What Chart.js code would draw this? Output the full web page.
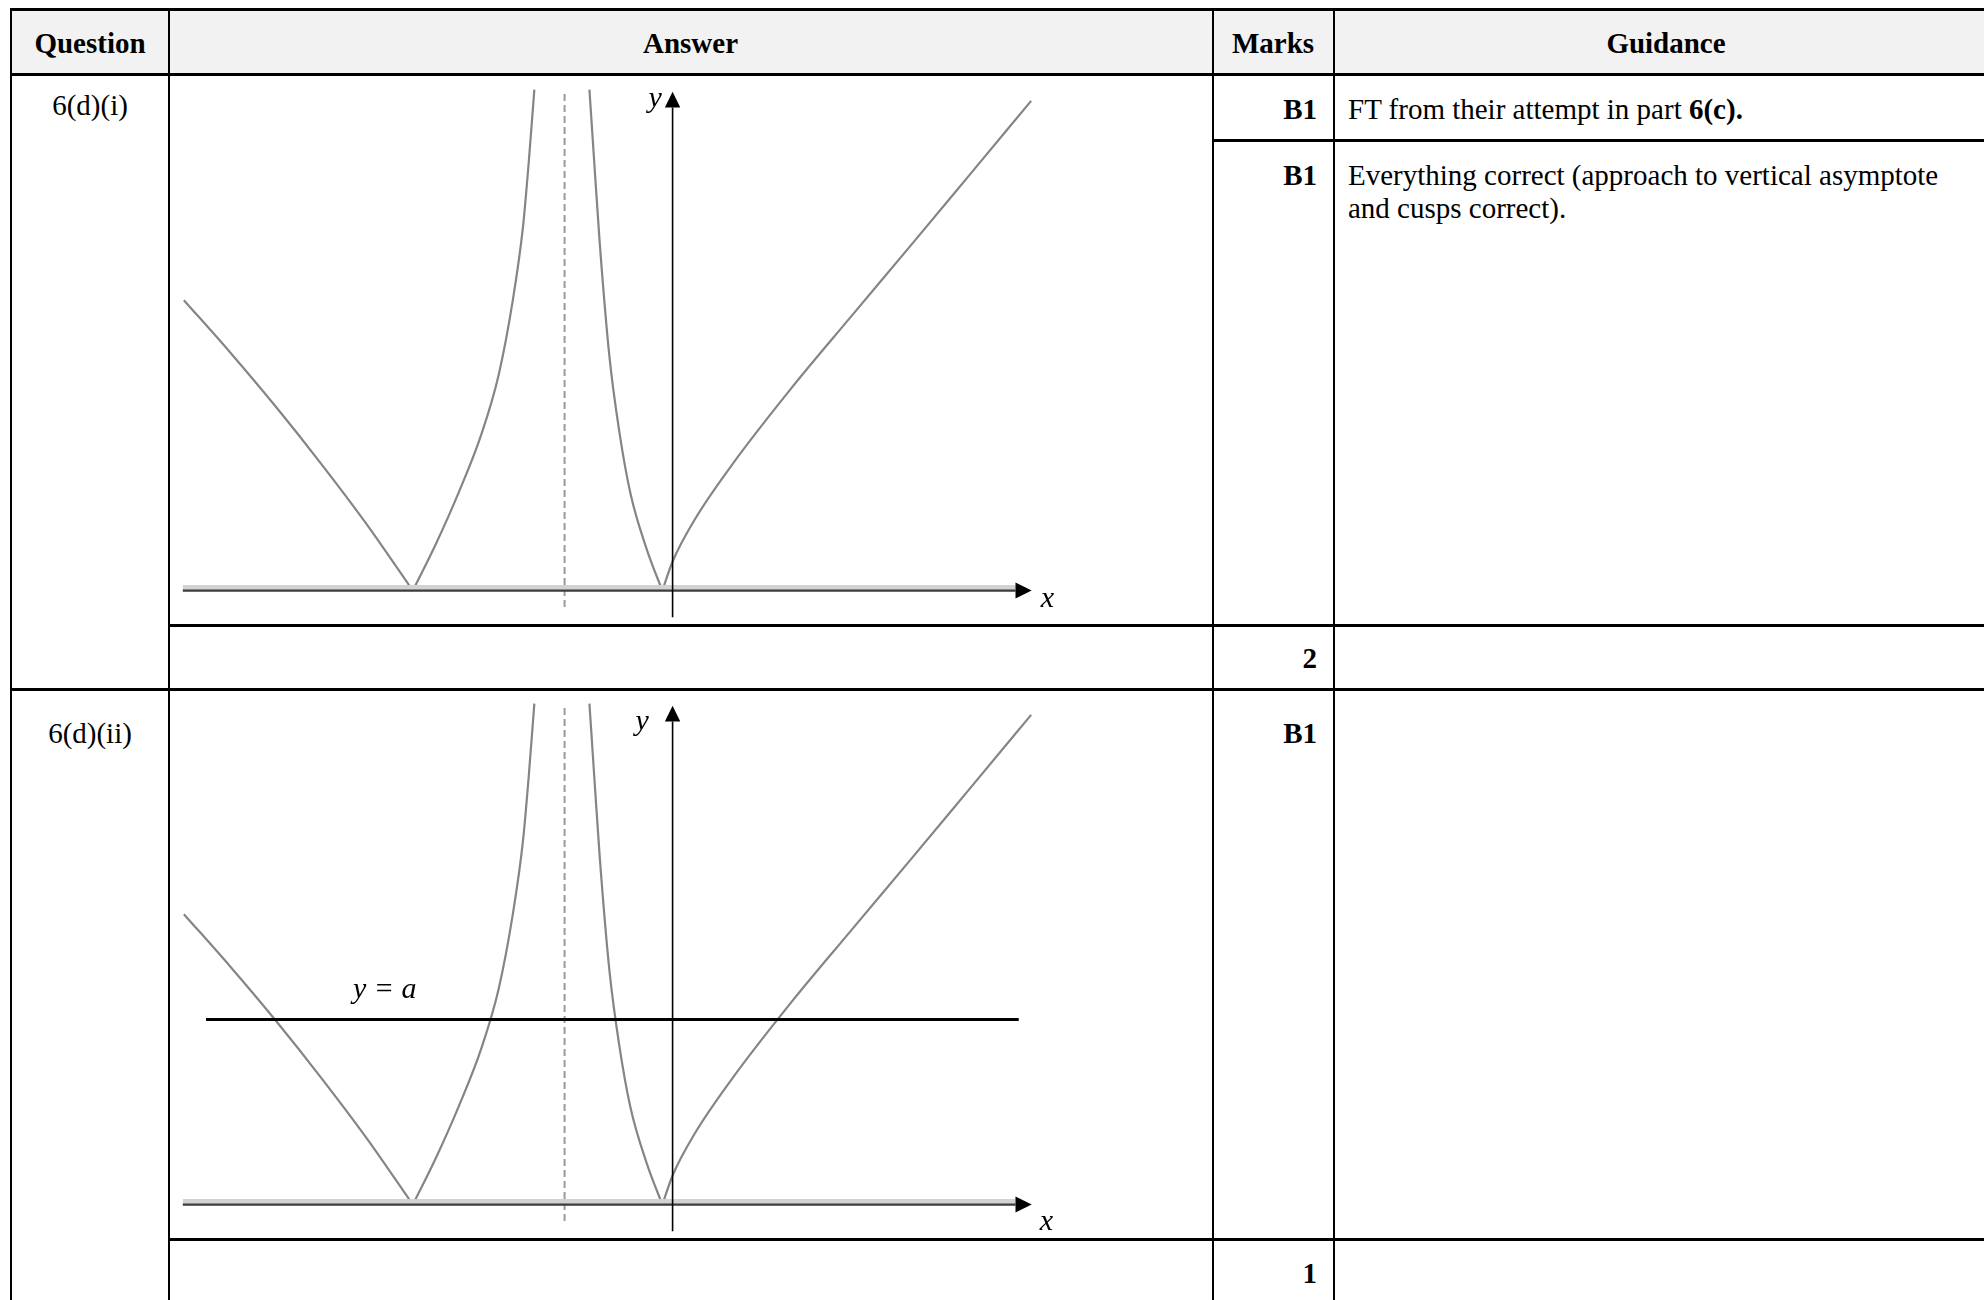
<!DOCTYPE html>
<html>
<head>
<meta charset="utf-8">
<script src="https://cdn.jsdelivr.net/npm/chart.js@4.4.1/dist/chart.umd.min.js"></script>
<style>
  html, body { margin: 0; padding: 0; background: #fff; }
  body { width: 1984px; height: 1300px; overflow: hidden; position: relative;
         font-family: 'Liberation Serif', 'Times New Roman', serif; font-size: 29px; color: #000; }
  .bg { position: absolute; left: 11px; top: 10px; width: 1990px; height: 64px; background: #f2f2f2; }
  .hl { position: absolute; height: 3px; background: #000; }
  .vl { position: absolute; width: 2px; background: #000; top: 8px; height: 1300px; }
  .t { position: absolute; line-height: 33px; white-space: nowrap; }
  .b { font-weight: bold; }
  .c { transform: translateX(-50%); }
  .r { transform: translateX(-100%); }
  .graph { position: absolute; left: 170px; width: 1040px; height: 544px; }
</style>
</head>
<body>
<div class="bg"></div>

<div class="hl" style="left:10px;top:8px;width:2000px"></div>
<div class="hl" style="left:10px;top:73px;width:2000px"></div>
<div class="hl" style="left:1212px;top:138.5px;width:800px"></div>
<div class="hl" style="left:168px;top:623.5px;width:1840px"></div>
<div class="hl" style="left:10px;top:688px;width:2000px"></div>
<div class="hl" style="left:168px;top:1237.5px;width:1840px"></div>

<div class="vl" style="left:10px"></div>
<div class="vl" style="left:167.7px"></div>
<div class="vl" style="left:1211.5px"></div>
<div class="vl" style="left:1333px"></div>

<div class="t b c" style="left:90px;top:27px">Question</div>
<div class="t b c" style="left:690.5px;top:27px">Answer</div>
<div class="t b c" style="left:1273px;top:27px">Marks</div>
<div class="t b c" style="left:1666px;top:27px">Guidance</div>

<div class="t c" style="left:90px;top:88.5px">6(d)(i)</div>
<div class="t b r" style="left:1317px;top:93px">B1</div>
<div class="t" style="left:1348px;top:93px">FT from their attempt in part <b>6(c).</b></div>
<div class="t b r" style="left:1317px;top:158.5px">B1</div>
<div class="t" style="left:1348px;top:158.5px">Everything correct (approach to vertical asymptote<br>and cusps correct).</div>
<div class="t b r" style="left:1317px;top:641.7px">2</div>

<div class="t c" style="left:90px;top:717px">6(d)(ii)</div>
<div class="t b r" style="left:1317px;top:717px">B1</div>
<div class="t b r" style="left:1317px;top:1256.7px">1</div>

<div class="graph" style="top:78px"><canvas id="g1" width="1040" height="544"></canvas></div>
<div class="graph" style="top:692px"><canvas id="g2" width="1040" height="544"></canvas></div>

<script>
// sketch, in graph units (about 54px per unit, origin where the axes cross)
const armLeftX   = [-9.05, -8.2, -7.35, -6.5, -5.65, -4.81];
const armLeftY   = [5.38, 4.42, 3.41, 2.34, 1.21, 0];
const riseLeftX  = [-4.81, -4.39, -3.96, -3.54, -3.22, -2.96, -2.77, -2.66, -2.56];
const riseLeftY  = [0, 0.85, 1.82, 2.90, 4.00, 5.37, 6.74, 7.98, 9.28];
const fallRightX = [-1.54, -1.445, -1.35, -1.17, -0.99, -0.78, -0.48, -0.19];
const fallRightY = [9.28, 7.85, 6.45, 4.34, 2.97, 1.80, 0.77, 0];
const armRightX  = [-0.19, 0, 0.4, 1.1, 2.2, 3.3, 4.4, 5.5, 6.64];
const armRightY  = [0, 0.54, 1.30, 2.33, 3.75, 5.07, 6.38, 7.70, 9.07];

const asymptoteX = -2;
const asymptoteSpan = [-0.3, 9.27];
const xAxisSpan = [-9.07, 6.35, 6.65];   // start, arrow base, arrow tip
const yAxisSpan = [-0.49, 8.95, 9.24];
const lineA = 3.43;
const lineASpan = [-8.64, 6.41];

const axisNames = ['x', 'y'];
const lineALabel = 'y = a';

const pts = (xs, ys) => xs.map((v, i) => ({ x: v, y: ys[i] }));
const seg = (data, color, width, extra) => Object.assign({
  data, borderColor: color, borderWidth: width, showLine: true,
  pointRadius: 0, fill: false
}, extra || {});

const sketchPlugin = {
  id: 'sketch',
  afterDatasetsDraw(chart, args, opts) {
    const { ctx, scales: { x, y } } = chart;
    ctx.save();
    ctx.fillStyle = '#000';
    const y0 = y.getPixelForValue(0) - 0.2;
    const xb = x.getPixelForValue(xAxisSpan[1]), xt = x.getPixelForValue(xAxisSpan[2]);
    ctx.beginPath();
    ctx.moveTo(xt, y0); ctx.lineTo(xb, y0 - 8); ctx.lineTo(xb, y0 + 8);
    ctx.closePath(); ctx.fill();
    const x0 = x.getPixelForValue(0);
    const yb = y.getPixelForValue(yAxisSpan[1]), yt = y.getPixelForValue(yAxisSpan[2]);
    ctx.beginPath();
    ctx.moveTo(x0, yt); ctx.lineTo(x0 - 7.7, yb); ctx.lineTo(x0 + 7.7, yb);
    ctx.closePath(); ctx.fill();
    ctx.font = "italic 30px 'Liberation Serif'";
    ctx.textBaseline = 'alphabetic';
    opts.labels.forEach(l => {
      ctx.textAlign = l.align;
      ctx.fillText(l.text, x.getPixelForValue(l.x), y.getPixelForValue(l.y));
    });
    ctx.restore();
  }
};

function makeGraph(id, withLineA, labels) {
  const curve = '#858585';
  const smooth = { cubicInterpolationMode: 'monotone' };
  const datasets = [
    seg([{ x: 0, y: yAxisSpan[0] }, { x: 0, y: yAxisSpan[1] }], '#000', 1.6),
    seg([{ x: xAxisSpan[0], y: 0 }, { x: xAxisSpan[1], y: 0 }], '#3c3c3c', 2.2),
    seg([{ x: xAxisSpan[0], y: 0.06 }, { x: xAxisSpan[1], y: 0.06 }], '#d2d2d2', 5)
  ];
  if (withLineA) {
    datasets.unshift(seg([{ x: lineASpan[0], y: lineA }, { x: lineASpan[1], y: lineA }], '#000', 3));
  }
  datasets.push(
    seg(pts(armLeftX, armLeftY), curve, 2.2, smooth),
    seg(pts(riseLeftX, riseLeftY), curve, 2.2, smooth),
    seg(pts(fallRightX, fallRightY), curve, 2.2, smooth),
    seg(pts(armRightX, armRightY), curve, 2.2, smooth),
    seg([{ x: asymptoteX, y: asymptoteSpan[0] }, { x: asymptoteX, y: asymptoteSpan[1] }],
        '#9a9a9a', 2, { borderDash: [7, 4] })
  );
  new Chart(document.getElementById(id).getContext('2d'), {
    type: 'scatter',
    data: { datasets },
    options: {
      responsive: false,
      animation: false,
      events: [],
      layout: { padding: 0 },
      plugins: {
        legend: { display: false },
        tooltip: { enabled: false },
        sketch: { labels }
      },
      scales: {
        x: { type: 'linear', min: -9.307, max: 9.952, display: false },
        y: { type: 'linear', min: -0.58, max: 9.494, display: false }
      }
    },
    plugins: [sketchPlugin]
  });
}

makeGraph('g1', false, [
  { text: axisNames[1], x: -0.2, y: 8.96, align: 'right' },
  { text: axisNames[0], x: 6.82, y: -0.3, align: 'left' }
]);
makeGraph('g2', true, [
  { text: axisNames[1], x: -0.44, y: 8.79, align: 'right' },
  { text: axisNames[0], x: 6.8, y: -0.47, align: 'left' },
  { text: lineALabel, x: -5.92, y: 3.82, align: 'left' }
]);
</script>
</body>
</html>
